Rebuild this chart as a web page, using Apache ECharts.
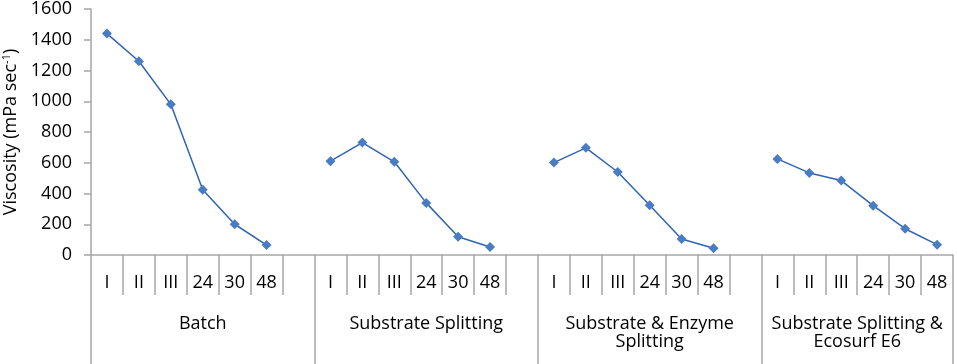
<!DOCTYPE html>
<html>
<head>
<meta charset="utf-8">
<script src="https://cdn.jsdelivr.net/npm/echarts@6/dist/echarts.min.js"></script>
<style>
  html, body {margin: 0; padding: 0; background: #fff;}
  #chart {width: 957px; height: 364px;}
</style>
</head>
<body>
<div id="chart"></div>
<script>
// tick labels along the first level, '' is the empty slot after each group
const timeLabels = ['I', 'II', 'III', '24', '30', '48']
const groups = ['Batch', 'Substrate Splitting', 'Substrate & Enzyme\nSplitting', 'Substrate Splitting &\nEcosurf E6']

// viscosity values
const batch = [1440, 1260, 980, 425, 200, 65]
const substrateSplitting = [610, 731, 606, 339, 119, 52]
const enzymeSplitting = [601, 697, 540, 323, 104, 44]
const ecosurf = [625, 534, 484, 321, 171, 67]

const yTicks = [0, 200, 400, 600, 800, 1000, 1200, 1400, 1600]

const groupValues = [batch, substrateSplitting, enzymeSplitting, ecosurf]

// build flat category list + series with a null gap between groups
const cats = []
const values = []
const groupStart = []
groupValues.forEach((arr, g) => {
  groupStart.push(cats.length)
  timeLabels.forEach((t, i) => {
    cats.push(t)
    values.push(arr[i])
  })
  if (g < groupValues.length - 1) {
    cats.push('')
    values.push(null)
  }
})
const n = cats.length

// second level: a label in the middle of each group
const groupCats = cats.map((c, i) => 'c' + i)
const labelAt = {}
groupStart.forEach((s, g) => {
  labelAt[s + 3] = g   // 7 slots -> middle slot index 3; last group has 6 -> boundary, shifted by padding
})
const groupData = groupCats.map((v, i) => {
  if (labelAt[i] === groupValues.length - 1) {
    const band = 862 / n
    return {value: v, textStyle: {padding: [0, band, 0, 0]}}
  }
  return v
})

const font = '"Open Sans", "Noto Sans", sans-serif'
const gray = '#a6a6a6'

const chart = echarts.init(document.getElementById('chart'))
chart.setOption({
  animation: false,
  grid: {left: 91, right: 4, top: 9, bottom: 109, containLabel: false, outerBoundsMode: 'none'},
  xAxis: [
    {
      type: 'category',
      data: cats,
      boundaryGap: true,
      position: 'bottom',
      axisLine: {show: true, lineStyle: {color: gray, width: 1.5}},
      axisTick: {show: true, interval: 0, length: 40, lineStyle: {color: gray, width: 1.5}},
      axisLabel: {
        interval: 0, margin: 19, color: '#000',
        fontFamily: font, fontSize: 18, lineHeight: 18
      }
    },
    {
      type: 'category',
      data: groupData,
      boundaryGap: true,
      position: 'bottom',
      axisLine: {show: false},
      axisTick: {
        show: true, length: 112,
        interval: (i) => groupStart.indexOf(i) >= 0,
        lineStyle: {color: gray, width: 1.5}
      },
      axisLabel: {
        margin: 60, color: '#000',
        fontFamily: font, fontSize: 18, lineHeight: 18,
        interval: (i) => labelAt[i] !== undefined,
        formatter: (v, i) => labelAt[i] !== undefined ? groups[labelAt[i]] : ''
      }
    }
  ],
  yAxis: {
    type: 'value',
    min: yTicks[0],
    max: yTicks[yTicks.length - 1],
    interval: 200,
    name: '{a|Viscosity (mPa sec}{s|-1}{a|)}',
    nameLocation: 'middle',
    nameGap: 70,
    nameTextStyle: {
      rich: {
        a: {fontFamily: font, fontSize: 18, color: '#000'},
        s: {fontFamily: font, fontSize: 11, color: '#000', padding: [0, 0, 9, 0]}
      }
    },
    splitLine: {show: false},
    axisLine: {show: true, lineStyle: {color: gray, width: 1.5}},
    axisTick: {show: true, length: 7, lineStyle: {color: gray, width: 1.5}},
    axisLabel: {
      margin: 19, color: '#000', fontFamily: font, fontSize: 18,
      formatter: (v) => String(v)
    }
  },
  series: [
    {
      type: 'line',
      xAxisIndex: 0,
      data: values,
      connectNulls: false,
      symbol: 'diamond',
      symbolSize: 10,
      itemStyle: {color: '#4a7cc4'},
      lineStyle: {color: '#2e64b5', width: 1.5}
    }
  ]
})
</script>
</body>
</html>
